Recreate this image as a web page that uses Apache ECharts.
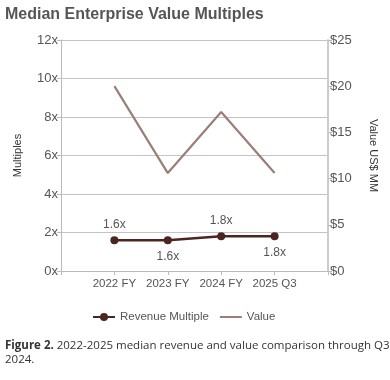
<!DOCTYPE html>
<html><head><meta charset="utf-8">
<script src="https://cdn.jsdelivr.net/npm/echarts@6/dist/echarts.min.js"></script>
<style>html,body{margin:0;padding:0;background:#fff}#c{width:390px;height:380px}</style>
</head><body><div id="c"></div>
<script>
const categories = ['2022 FY', '2023 FY', '2024 FY', '2025 Q3'];
const revenueMultiple = [1.6, 1.6, 1.8, 1.8];
const valueMM = [20, 10.6, 17.2, 10.6];
const leftTicks = { min: 0, max: 12, interval: 2 };
const rightTicks = { min: 0, max: 25, interval: 5 };

const axisCats = [''].concat(categories, ['']);
const pad = a => [null].concat(a, [null]);
const labelPos = ['top', 'bottom', 'top', 'bottom'];
const revData = pad(revenueMultiple.map((v, i) => ({ value: v, label: { position: labelPos[i] } })));

const chart = echarts.init(document.getElementById('c'), null, { renderer: 'canvas' });
const font = "'Liberation Sans', Arial, sans-serif";
const capFont = "'Open Sans', sans-serif";
chart.setOption({
  animation: false,
  textStyle: { fontFamily: font },
  title: [{
    text: 'Median Enterprise Value Multiples', left: 0, top: 2,
    textStyle: { fontSize: 16, fontWeight: 'bold', color: '#555', fontFamily: font }
  }, {
    text: '{b|Figure 2.} 2022-2025 median revenue and value comparison through Q3\n2024.',
    left: 0, top: 334,
    textStyle: {
      fontSize: 11.5, color: '#333', fontWeight: 'normal', lineHeight: 14, fontFamily: capFont,
      rich: { b: { fontWeight: 'bold', fontSize: 11.5, color: '#333', fontFamily: capFont } }
    }
  }],
  legend: {
    top: 306, left: 87,
    itemWidth: 22, itemHeight: 10, itemGap: 10,
    textStyle: { fontSize: 11.5, color: '#555', fontFamily: font },
    data: ['Revenue Multiple', { name: 'Value', itemStyle: { opacity: 0 } }]
  },
  grid: { left: 61, right: 62, top: 40, bottom: 109 },
  xAxis: {
    type: 'category', boundaryGap: false, data: axisCats,
    axisLine: { lineStyle: { color: '#bbb' } },
    axisTick: { alignWithLabel: true, length: 4, lineStyle: { color: '#bbb' } },
    axisLabel: { color: '#555', fontSize: 11.5, margin: 7, interval: 0, fontFamily: font }
  },
  yAxis: [{
    type: 'value', min: leftTicks.min, max: leftTicks.max, interval: leftTicks.interval,
    name: 'Multiples', nameLocation: 'middle', nameGap: 38, nameRotate: 90,
    nameTextStyle: { fontSize: 11, color: '#333', fontFamily: font },
    axisLine: { show: true, lineStyle: { color: '#bbb' } },
    axisTick: { show: true, length: 4, lineStyle: { color: '#bbb' } },
    axisLabel: { color: '#555', fontSize: 13, margin: 3, fontFamily: font, formatter: v => v + 'x' },
    splitLine: { lineStyle: { color: '#c4c4c4' } }
  }, {
    type: 'value', min: rightTicks.min, max: rightTicks.max, interval: rightTicks.interval,
    position: 'right',
    name: 'Value US$ MM', nameLocation: 'middle', nameGap: 40, nameRotate: -90,
    nameTextStyle: { fontSize: 11, color: '#333', fontFamily: font },
    axisLine: { show: true, lineStyle: { color: '#ccc', width: 2 } },
    axisTick: { show: true, length: 4, lineStyle: { color: '#bbb' } },
    axisLabel: { color: '#555', fontSize: 13, margin: 2, fontFamily: font, formatter: v => '$' + v },
    splitLine: { show: false }
  }],
  series: [{
    name: 'Revenue Multiple', type: 'line', yAxisIndex: 0,
    data: revData,
    symbol: 'circle', symbolSize: 8,
    lineStyle: { color: '#4b2620', width: 2.5 },
    itemStyle: { color: '#4b2620' },
    label: { show: true, color: '#555', fontSize: 12, distance: 6, fontFamily: font, formatter: p => p.value.toFixed(1) + 'x' },
    z: 3
  }, {
    name: 'Value', type: 'line', yAxisIndex: 1,
    data: pad(valueMM),
    symbol: 'none', showSymbol: false,
    lineStyle: { color: '#9a7f78', width: 2.2 },
    itemStyle: { color: '#9a7f78' },
    z: 2
  }]
});
</script></body></html>
